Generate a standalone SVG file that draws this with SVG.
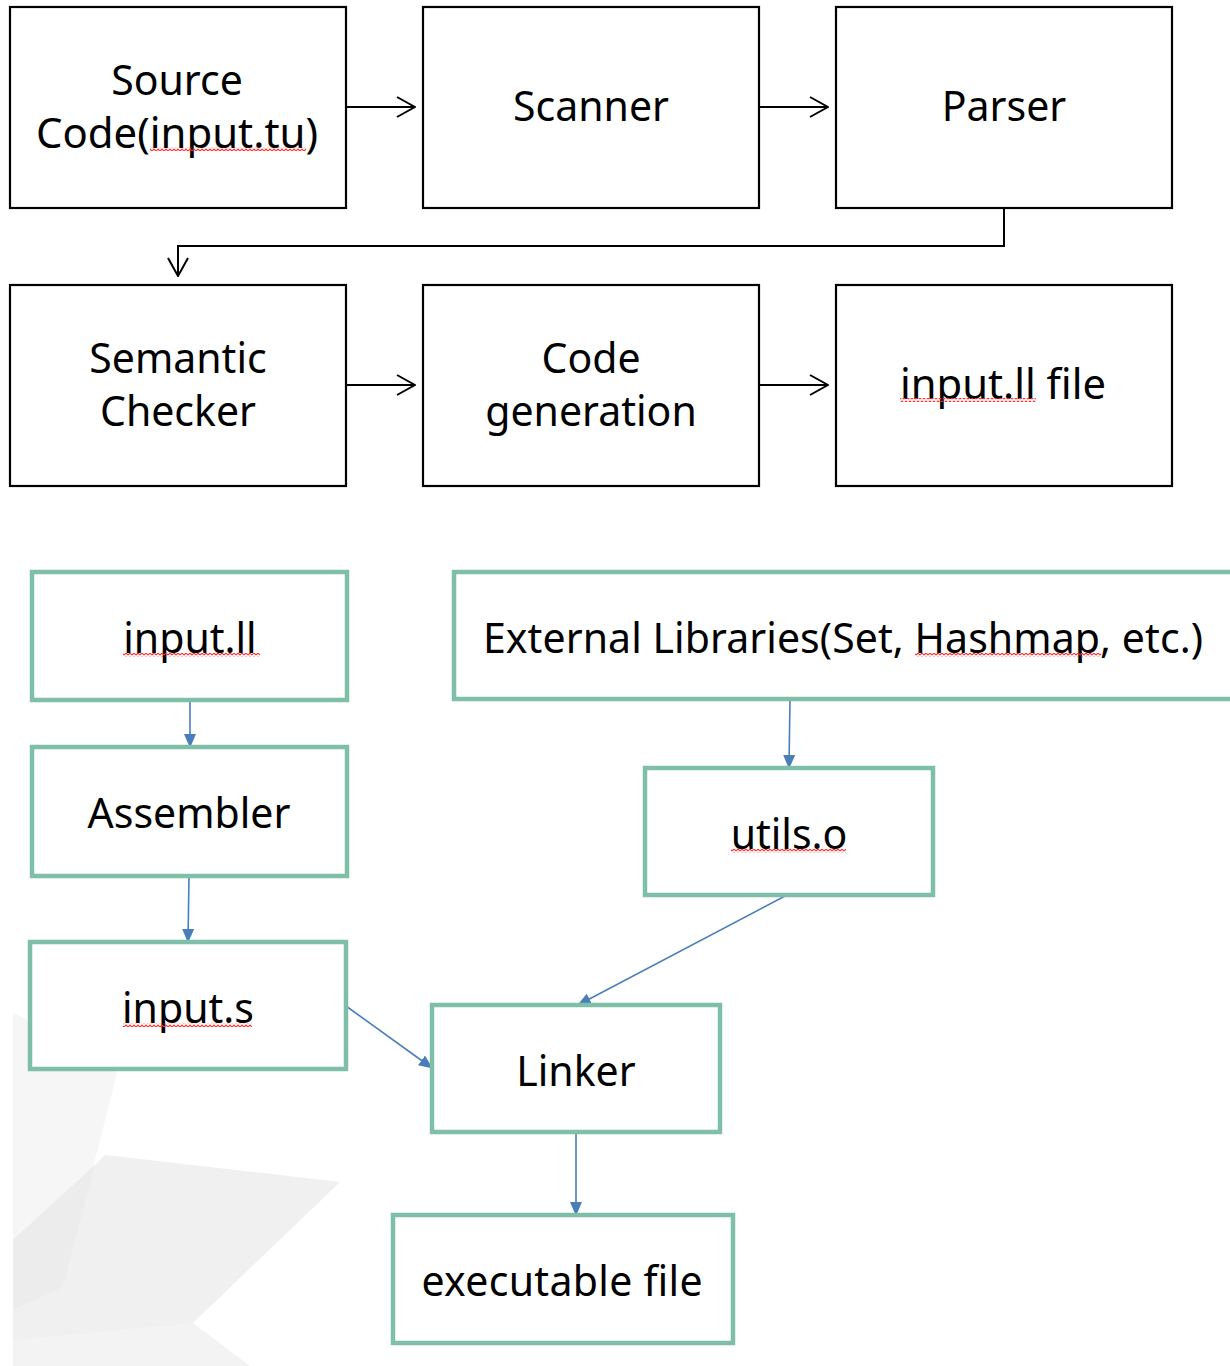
<svg xmlns="http://www.w3.org/2000/svg" width="1230" height="1366" viewBox="0 0 1230 1366">
<style>
.bk{fill:#fff;stroke:#000;stroke-width:2.2}
.gr{fill:#fff;stroke:#7fbfa8;stroke-width:4.5}
.t{font-family:"Noto Sans","Open Sans",sans-serif;font-size:41px;fill:#000;text-anchor:middle}
.ca{fill:none;stroke:#000;stroke-width:2}
.ba{fill:none;stroke:#4a7ebb;stroke-width:1.6}
</style>
<defs>
<marker id="oa" viewBox="0 0 20 22" refX="19" refY="11" markerWidth="20" markerHeight="22" markerUnits="userSpaceOnUse" orient="auto">
<path d="M1,1 L19,11 L1,21" fill="none" stroke="#000" stroke-width="2"/>
</marker>
<marker id="fa" viewBox="0 0 14 14" refX="13" refY="7" markerWidth="14" markerHeight="14" markerUnits="userSpaceOnUse" orient="auto">
<path d="M0,1 L14,7 L0,13 Z" fill="#4a7ebb"/>
</marker>
<pattern id="sq" width="4" height="4" patternUnits="userSpaceOnUse">
<path d="M0,3 L2,1 L4,3" fill="none" stroke="#ff3030" stroke-width="1.1"/>
</pattern>
</defs>
<g id="background">
<polygon points="13,1012 117,1073 95,1160 63,1287 13,1300" fill="#f6f6f6"/>
<polygon points="105,1155 340,1182 193,1323 13,1362 13,1240 95,1165" fill="#f0f0f0"/>
<polygon points="13,1240 95,1165 63,1287 13,1310" fill="#ececec"/>
<polygon points="13,1340 193,1323 250,1366 13,1366" fill="#f3f3f3"/>
</g>
<g id="connectors">
<line class="ca" x1="346" y1="107" x2="415" y2="107" marker-end="url(#oa)"/>
<line class="ca" x1="759" y1="107" x2="828" y2="107" marker-end="url(#oa)"/>
<polyline class="ca" points="1004,208 1004,246 178,246 178,276" marker-end="url(#oa)"/>
<line class="ca" x1="346" y1="385" x2="415" y2="385" marker-end="url(#oa)"/>
<line class="ca" x1="759" y1="385" x2="828" y2="385" marker-end="url(#oa)"/>
<line class="ba" x1="190" y1="700" x2="190" y2="747" marker-end="url(#fa)"/>
<line class="ba" x1="189" y1="876" x2="188" y2="942" marker-end="url(#fa)"/>
<line class="ba" x1="790" y1="700" x2="789" y2="768" marker-end="url(#fa)"/>
<line class="ba" x1="787" y1="895" x2="578" y2="1005" marker-end="url(#fa)"/>
<line class="ba" x1="346" y1="1006" x2="432" y2="1068" marker-end="url(#fa)"/>
<line class="ba" x1="576" y1="1132" x2="576" y2="1215" marker-end="url(#fa)"/>
</g>
<g id="source">
<rect class="bk" x="10" y="7" width="336" height="201"/>
<text class="t" x="177" y="95">Source</text>
<text class="t" x="177" y="148" textLength="282" lengthAdjust="spacingAndGlyphs">Code(input.tu)</text>
<rect x="150" y="147" width="156" height="4" fill="url(#sq)"/>
</g>
<g id="scanner">
<rect class="bk" x="423" y="7" width="336" height="201"/>
<text class="t" x="591" y="121">Scanner</text>
</g>
<g id="parser">
<rect class="bk" x="836" y="7" width="336" height="201"/>
<text class="t" x="1004" y="121">Parser</text>
</g>
<g id="semantic">
<rect class="bk" x="10" y="285" width="336" height="201"/>
<text class="t" x="178" y="373">Semantic</text>
<text class="t" x="178" y="426">Checker</text>
</g>
<g id="codegen">
<rect class="bk" x="423" y="285" width="336" height="201"/>
<text class="t" x="591" y="373">Code</text>
<text class="t" x="591" y="426">generation</text>
</g>
<g id="llfile">
<rect class="bk" x="836" y="285" width="336" height="201"/>
<text class="t" x="1003" y="399" textLength="206" lengthAdjust="spacingAndGlyphs">input.ll file</text>
<rect x="900" y="398" width="136" height="4" fill="url(#sq)"/>
</g>
<g id="inputll">
<rect class="gr" x="32" y="572" width="315" height="128"/>
<text class="t" x="190" y="653">input.ll</text>
<rect x="123" y="653" width="137" height="4" fill="url(#sq)"/>
</g>
<g id="assembler">
<rect class="gr" x="32" y="747" width="315" height="129"/>
<text class="t" x="189" y="828">Assembler</text>
</g>
<g id="inputs">
<rect class="gr" x="30" y="942" width="316" height="127"/>
<text class="t" x="188" y="1023">input.s</text>
<rect x="123" y="1023" width="129" height="4" fill="url(#sq)"/>
</g>
<g id="extlibs">
<rect class="gr" x="454" y="572" width="780" height="127"/>
<text class="t" x="843" y="653" textLength="720" lengthAdjust="spacing">External Libraries(Set, Hashmap, etc.)</text>
<rect x="915" y="653" width="186" height="4" fill="url(#sq)"/>
</g>
<g id="utils">
<rect class="gr" x="645" y="768" width="288" height="127"/>
<text class="t" x="789" y="849">utils.o</text>
<rect x="731" y="849" width="115" height="4" fill="url(#sq)"/>
</g>
<g id="linker">
<rect class="gr" x="432" y="1005" width="288" height="127"/>
<text class="t" x="576" y="1086">Linker</text>
</g>
<g id="executable">
<rect class="gr" x="393" y="1215" width="340" height="128"/>
<text class="t" x="562" y="1296" textLength="281" lengthAdjust="spacing">executable file</text>
</g>
</svg>
